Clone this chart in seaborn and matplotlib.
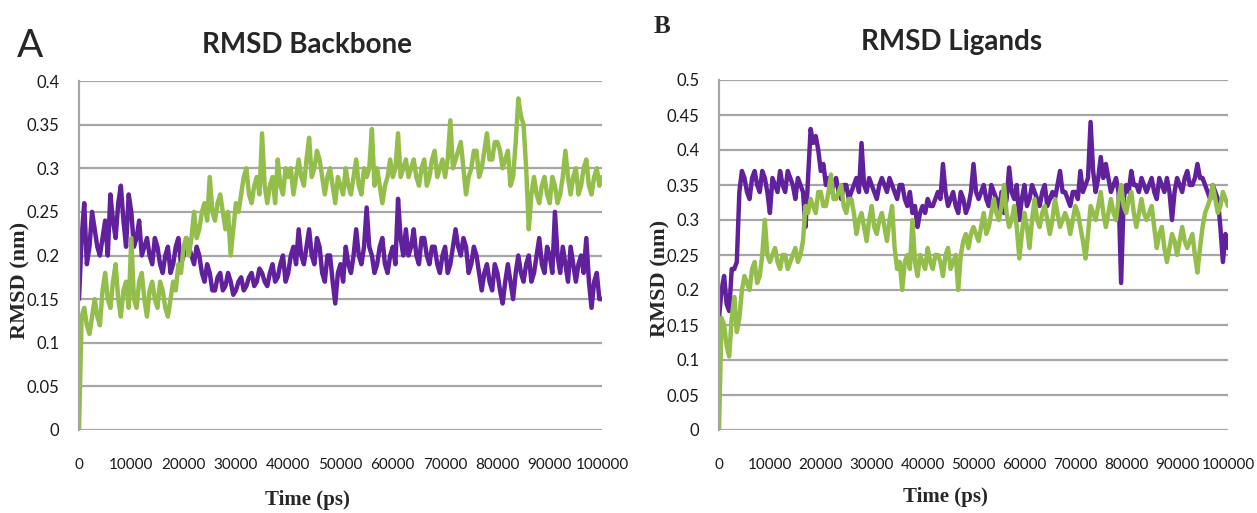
import matplotlib
matplotlib.use("Agg")
import matplotlib.pyplot as plt
import numpy as np
import pandas as pd
import seaborn as sns

# time axis (ps), one sample every 500 ps
time_ps = list(range(0, 100001, 500))

# panel A: RMSD backbone (nm)
backbone_purple = [
    0.15, 0.22, 0.26, 0.19, 0.21, 0.25, 0.23, 0.21, 0.20, 0.22, 0.24, 0.20, 0.27, 0.24, 0.22, 0.26, 0.28, 0.24, 0.21, 0.27,
    0.25, 0.21, 0.22, 0.24, 0.20, 0.21, 0.22, 0.20, 0.19, 0.22, 0.21, 0.19, 0.18, 0.20, 0.21, 0.18, 0.19, 0.21, 0.22, 0.19,
    0.20, 0.22, 0.21, 0.20, 0.19, 0.21, 0.20, 0.18, 0.17, 0.19, 0.18, 0.16, 0.16, 0.175, 0.18, 0.16, 0.165, 0.18, 0.17, 0.155,
    0.16, 0.17, 0.175, 0.16, 0.165, 0.175, 0.18, 0.165, 0.17, 0.185, 0.18, 0.17, 0.165, 0.18, 0.19, 0.17, 0.175, 0.19, 0.20, 0.17,
    0.18, 0.20, 0.21, 0.19, 0.23, 0.20, 0.19, 0.21, 0.23, 0.20, 0.19, 0.22, 0.21, 0.18, 0.17, 0.20, 0.20, 0.17, 0.145, 0.18,
    0.19, 0.17, 0.21, 0.19, 0.18, 0.20, 0.23, 0.20, 0.19, 0.21, 0.255, 0.21, 0.20, 0.18, 0.19, 0.21, 0.22, 0.19, 0.18, 0.20,
    0.21, 0.19, 0.265, 0.22, 0.20, 0.23, 0.20, 0.21, 0.23, 0.20, 0.19, 0.22, 0.22, 0.20, 0.19, 0.21, 0.21, 0.19, 0.18, 0.20,
    0.21, 0.18, 0.19, 0.21, 0.23, 0.21, 0.20, 0.22, 0.21, 0.18, 0.19, 0.21, 0.20, 0.18, 0.16, 0.18, 0.19, 0.17, 0.16, 0.19,
    0.18, 0.16, 0.145, 0.17, 0.19, 0.17, 0.15, 0.18, 0.20, 0.18, 0.17, 0.19, 0.20, 0.17, 0.18, 0.20, 0.22, 0.19, 0.18, 0.21,
    0.20, 0.18, 0.25, 0.20, 0.18, 0.21, 0.19, 0.17, 0.21, 0.19, 0.17, 0.19, 0.20, 0.18, 0.22, 0.17, 0.14, 0.17, 0.18, 0.15,
    0.15,
]
backbone_green = [
    0.00, 0.13, 0.14, 0.12, 0.11, 0.13, 0.15, 0.13, 0.12, 0.16, 0.18, 0.15, 0.14, 0.17, 0.19, 0.15, 0.13, 0.16, 0.17, 0.14,
    0.22, 0.15, 0.14, 0.17, 0.18, 0.15, 0.13, 0.16, 0.17, 0.15, 0.14, 0.17, 0.16, 0.14, 0.13, 0.15, 0.17, 0.16, 0.19, 0.18,
    0.21, 0.22, 0.20, 0.22, 0.25, 0.22, 0.23, 0.25, 0.26, 0.24, 0.29, 0.25, 0.24, 0.26, 0.27, 0.25, 0.23, 0.25, 0.20, 0.23,
    0.26, 0.25, 0.27, 0.29, 0.30, 0.27, 0.26, 0.28, 0.29, 0.27, 0.34, 0.28, 0.26, 0.28, 0.29, 0.26, 0.31, 0.28, 0.27, 0.30,
    0.29, 0.30, 0.27, 0.29, 0.31, 0.29, 0.28, 0.31, 0.335, 0.29, 0.30, 0.32, 0.31, 0.29, 0.27, 0.29, 0.30, 0.28, 0.26, 0.29,
    0.28, 0.27, 0.30, 0.28, 0.27, 0.29, 0.31, 0.28, 0.27, 0.30, 0.29, 0.30, 0.345, 0.28, 0.30, 0.28, 0.26, 0.28, 0.29, 0.31,
    0.29, 0.30, 0.34, 0.29, 0.30, 0.31, 0.29, 0.30, 0.31, 0.29, 0.28, 0.30, 0.31, 0.28, 0.29, 0.31, 0.32, 0.29, 0.30, 0.31,
    0.29, 0.31, 0.355, 0.30, 0.31, 0.32, 0.33, 0.30, 0.27, 0.29, 0.30, 0.32, 0.32, 0.29, 0.30, 0.32, 0.34, 0.31, 0.31, 0.33,
    0.33, 0.32, 0.30, 0.31, 0.32, 0.28, 0.29, 0.33, 0.38, 0.36, 0.35, 0.30, 0.23, 0.27, 0.29, 0.27, 0.26, 0.28, 0.29, 0.27,
    0.26, 0.29, 0.28, 0.26, 0.27, 0.29, 0.32, 0.29, 0.27, 0.29, 0.30, 0.27, 0.28, 0.30, 0.31, 0.28, 0.27, 0.29, 0.30, 0.28,
    0.29,
]

# panel B: RMSD ligands (nm)
ligand_purple = [
    0.16, 0.20, 0.22, 0.18, 0.17, 0.23, 0.23, 0.24, 0.34, 0.37, 0.36, 0.34, 0.33, 0.36, 0.37, 0.35, 0.34, 0.37, 0.36, 0.34,
    0.31, 0.36, 0.35, 0.34, 0.37, 0.35, 0.34, 0.37, 0.36, 0.35, 0.33, 0.36, 0.35, 0.34, 0.29, 0.36, 0.43, 0.41, 0.42, 0.40,
    0.37, 0.38, 0.35, 0.36, 0.34, 0.35, 0.36, 0.34, 0.33, 0.35, 0.35, 0.33, 0.34, 0.35, 0.36, 0.34, 0.41, 0.35, 0.34, 0.36,
    0.35, 0.34, 0.33, 0.35, 0.36, 0.35, 0.34, 0.36, 0.35, 0.34, 0.33, 0.35, 0.35, 0.33, 0.32, 0.34, 0.31, 0.32, 0.29, 0.31,
    0.32, 0.31, 0.33, 0.32, 0.32, 0.33, 0.34, 0.33, 0.38, 0.34, 0.32, 0.33, 0.34, 0.32, 0.31, 0.34, 0.33, 0.31, 0.32, 0.34,
    0.38, 0.34, 0.33, 0.34, 0.35, 0.33, 0.32, 0.35, 0.34, 0.33, 0.31, 0.34, 0.31, 0.33, 0.375, 0.34, 0.33, 0.35, 0.30, 0.33,
    0.35, 0.32, 0.33, 0.35, 0.34, 0.33, 0.32, 0.34, 0.35, 0.32, 0.33, 0.34, 0.33, 0.35, 0.37, 0.34, 0.34, 0.33, 0.32, 0.34,
    0.34, 0.33, 0.37, 0.34, 0.35, 0.36, 0.44, 0.37, 0.34, 0.36, 0.39, 0.36, 0.38, 0.36, 0.34, 0.35, 0.36, 0.34, 0.21, 0.33,
    0.35, 0.34, 0.37, 0.35, 0.35, 0.34, 0.36, 0.35, 0.34, 0.35, 0.36, 0.34, 0.33, 0.36, 0.35, 0.34, 0.36, 0.34, 0.30, 0.34,
    0.36, 0.35, 0.34, 0.36, 0.37, 0.35, 0.35, 0.36, 0.38, 0.36, 0.36, 0.35, 0.34, 0.33, 0.35, 0.34, 0.33, 0.29, 0.24, 0.28,
    0.26,
]
ligand_green = [
    0.00, 0.16, 0.15, 0.12, 0.105, 0.16, 0.19, 0.14, 0.16, 0.20, 0.22, 0.21, 0.20, 0.23, 0.24, 0.21, 0.22, 0.25, 0.30, 0.25,
    0.24, 0.25, 0.26, 0.24, 0.23, 0.25, 0.25, 0.23, 0.24, 0.25, 0.26, 0.24, 0.25, 0.27, 0.32, 0.31, 0.33, 0.32, 0.31, 0.34,
    0.34, 0.32, 0.32, 0.34, 0.365, 0.33, 0.33, 0.34, 0.35, 0.32, 0.31, 0.33, 0.33, 0.31, 0.28, 0.30, 0.31, 0.29, 0.27, 0.30,
    0.32, 0.29, 0.28, 0.30, 0.31, 0.29, 0.27, 0.30, 0.32, 0.26, 0.23, 0.24, 0.20, 0.24, 0.25, 0.23, 0.30, 0.24, 0.22, 0.25,
    0.24, 0.23, 0.26, 0.24, 0.23, 0.25, 0.25, 0.24, 0.22, 0.25, 0.26, 0.23, 0.24, 0.25, 0.20, 0.25, 0.27, 0.28, 0.26, 0.28,
    0.29, 0.28, 0.27, 0.29, 0.31, 0.28, 0.29, 0.31, 0.33, 0.31, 0.30, 0.32, 0.35, 0.31, 0.29, 0.30, 0.32, 0.29, 0.245, 0.28,
    0.31, 0.29, 0.26, 0.30, 0.33, 0.30, 0.29, 0.31, 0.32, 0.30, 0.28, 0.30, 0.33, 0.31, 0.29, 0.30, 0.31, 0.30, 0.28, 0.30,
    0.32, 0.31, 0.29, 0.27, 0.245, 0.28, 0.32, 0.31, 0.30, 0.32, 0.34, 0.31, 0.29, 0.31, 0.33, 0.31, 0.30, 0.33, 0.35, 0.32,
    0.31, 0.33, 0.34, 0.31, 0.29, 0.31, 0.33, 0.31, 0.30, 0.31, 0.32, 0.29, 0.26, 0.28, 0.29, 0.26, 0.24, 0.26, 0.28, 0.27,
    0.25, 0.27, 0.29, 0.27, 0.26, 0.27, 0.28, 0.25, 0.225, 0.26, 0.29, 0.31, 0.32, 0.33, 0.35, 0.33, 0.31, 0.32, 0.34, 0.33,
    0.32,
]

x_ticks = list(range(0, 100001, 10000))
purple = "#62219c"
green = "#93be4b"
grid_gray = "#a6a6a6"

sns.set_style("white")
plt.rcParams["font.family"] = ["Lato", "DejaVu Sans"]

W, H = 1257, 513
fig = plt.figure(figsize=(W / 100, H / 100), dpi=100)


def px_axes(left, top, right, bottom):
    return fig.add_axes([left / W, 1 - bottom / H, (right - left) / W, (bottom - top) / H])


def style_axis(ax, ymax):
    yt = np.round(np.arange(0, ymax + 0.001, 0.05), 2)
    ax.set_xlim(0, 100000)
    ax.set_ylim(0, ymax)
    ax.set_xticks(x_ticks)
    ax.set_xticklabels([str(t) for t in x_ticks])
    ax.set_yticks(yt)
    ax.set_yticklabels(["0" if v == 0 else f"{v:g}" for v in yt])
    ax.yaxis.grid(True, color=grid_gray, lw=1.6)
    ax.xaxis.grid(False)
    ax.set_axisbelow(True)
    for s in ["top", "right", "bottom"]:
        ax.spines[s].set_visible(False)
    ax.spines["left"].set_color(grid_gray)
    ax.spines["left"].set_linewidth(1.6)
    ax.tick_params(axis="both", length=0, colors="#1a1a1a")
    ax.tick_params(axis="x", pad=20, labelsize=11)
    ax.tick_params(axis="y", pad=14, labelsize=12)
    ax.set_xlabel("")
    ax.set_ylabel("")


axA = px_axes(79, 81, 602, 430)
dfA = pd.DataFrame({"time": time_ps, "purple": backbone_purple, "green": backbone_green})
sns.lineplot(data=dfA, x="time", y="purple", ax=axA, color=purple, lw=3.2)
sns.lineplot(data=dfA, x="time", y="green", ax=axA, color=green, lw=3.2)
style_axis(axA, 0.4)

axB = px_axes(719, 80, 1228, 430)
dfB = pd.DataFrame({"time": time_ps, "purple": ligand_purple, "green": ligand_green})
sns.lineplot(data=dfB, x="time", y="purple", ax=axB, color=purple, lw=3.2)
sns.lineplot(data=dfB, x="time", y="green", ax=axB, color=green, lw=3.2)
style_axis(axB, 0.5)

serif = ["Liberation Serif", "DejaVu Serif"]
fig.text(307 / W, 1 - 45 / H, "RMSD Backbone", ha="center", va="center", fontsize=20, fontweight="bold")
fig.text(952 / W, 1 - 42 / H, "RMSD Ligands", ha="center", va="center", fontsize=20, fontweight="bold")
fig.text(30 / W, 1 - 46 / H, "A", ha="center", va="center", fontsize=28)
fig.text(662 / W, 1 - 27 / H, "B", ha="center", va="center", fontsize=18, fontweight="bold", family=serif)
fig.text(20 / W, 1 - 280 / H, "RMSD (nm)", ha="center", va="center", rotation=90, fontsize=16, fontweight="bold", family=serif)
fig.text(660 / W, 1 - 278 / H, "RMSD (nm)", ha="center", va="center", rotation=90, fontsize=16, fontweight="bold", family=serif)
fig.text(307 / W, 1 - 500 / H, "Time (ps)", ha="center", va="center", fontsize=15, fontweight="bold", family=serif)
fig.text(945 / W, 1 - 497 / H, "Time (ps)", ha="center", va="center", fontsize=15, fontweight="bold", family=serif)

fig.savefig("out.png", dpi=100)
